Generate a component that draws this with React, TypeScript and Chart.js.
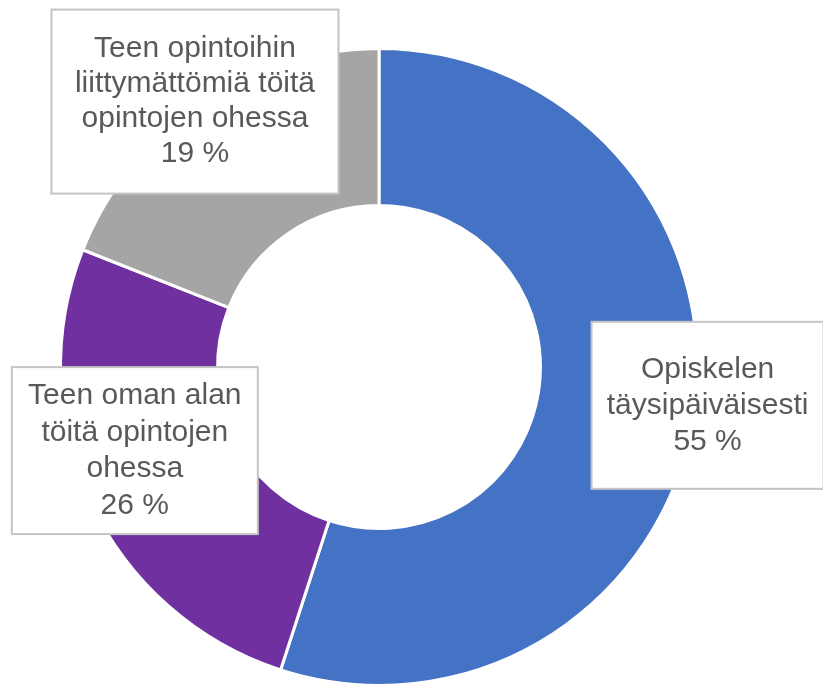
import React, { useEffect, useRef } from "react";
import { Chart, registerables } from "chart.js";

Chart.register(...registerables);

const categories: string[][] = [
  ["Opiskelen", "täysipäiväisesti"],
  ["Teen oman alan", "töitä opintojen", "ohessa"],
  ["Teen opintoihin", "liittymättömiä töitä", "opintojen ohessa"],
];
const values: number[] = [55, 26, 19];
const colors: string[] = ["#4472C4", "#7030A0", "#A5A5A5"];

// label box layout: offset from the outer mid-point of each slice, and box size
const labelLayout = [
  { dx: 14, dy: -11.5, w: 232, h: 167, lh: 36 },
  { dx: 44, dy: -52, w: 246, h: 167, lh: 36.5 },
  { dx: -5, dy: -2, w: 287, h: 184, lh: 35 },
];

const labelPlugin = {
  id: "boxLabels",
  afterDatasetsDraw(chart: any) {
    const ctx = chart.ctx as CanvasRenderingContext2D;
    const meta = chart.getDatasetMeta(0);
    meta.data.forEach((arc: any, i: number) => {
      const { x, y, startAngle, endAngle, outerRadius } = arc.getProps(
        ["x", "y", "startAngle", "endAngle", "outerRadius"],
        true
      );
      const mid = (startAngle + endAngle) / 2;
      const lay = labelLayout[i];
      const cx = x + Math.cos(mid) * outerRadius + lay.dx;
      const cy = y + Math.sin(mid) * outerRadius + lay.dy;
      ctx.save();
      ctx.fillStyle = "#FFFFFF";
      ctx.strokeStyle = "#C4C4C4";
      ctx.lineWidth = 2;
      ctx.fillRect(cx - lay.w / 2, cy - lay.h / 2, lay.w, lay.h);
      ctx.strokeRect(cx - lay.w / 2, cy - lay.h / 2, lay.w, lay.h);
      const lines = [...categories[i], `${values[i]} %`];
      ctx.fillStyle = "#595959";
      ctx.font = '30px "Liberation Sans", Arial, sans-serif';
      ctx.textAlign = "center";
      ctx.textBaseline = "middle";
      const n = lines.length;
      lines.forEach((ln, k) => {
        const ly = cy + (k - (n - 1) / 2) * lay.lh;
        ctx.fillText(ln, cx, ly);
      });
      ctx.restore();
    });
  },
};

export default function App() {
  const ref = useRef<HTMLCanvasElement | null>(null);
  useEffect(() => {
    if (!ref.current) return;
    const chart = new Chart(ref.current, {
      type: "doughnut",
      data: {
        labels: categories.map((c) => c.join(" ")),
        datasets: [
          {
            data: values,
            backgroundColor: colors,
            borderColor: "#FFFFFF",
            borderWidth: 3,
          },
        ],
      },
      options: {
        responsive: false,
        animation: false,
        cutout: "50.7%",
        layout: { padding: { top: 47, bottom: 0, left: 59, right: 124 } },
        plugins: {
          legend: { display: false },
          tooltip: { enabled: false },
        },
      },
      plugins: [labelPlugin],
    });
    return () => chart.destroy();
  }, []);
  return (
    <div style={{ position: "fixed", left: 0, top: 0, width: 823, height: 687, background: "#fff" }}>
      <canvas ref={ref} width={823} height={687} style={{ display: "block" }} />
    </div>
  );
}
